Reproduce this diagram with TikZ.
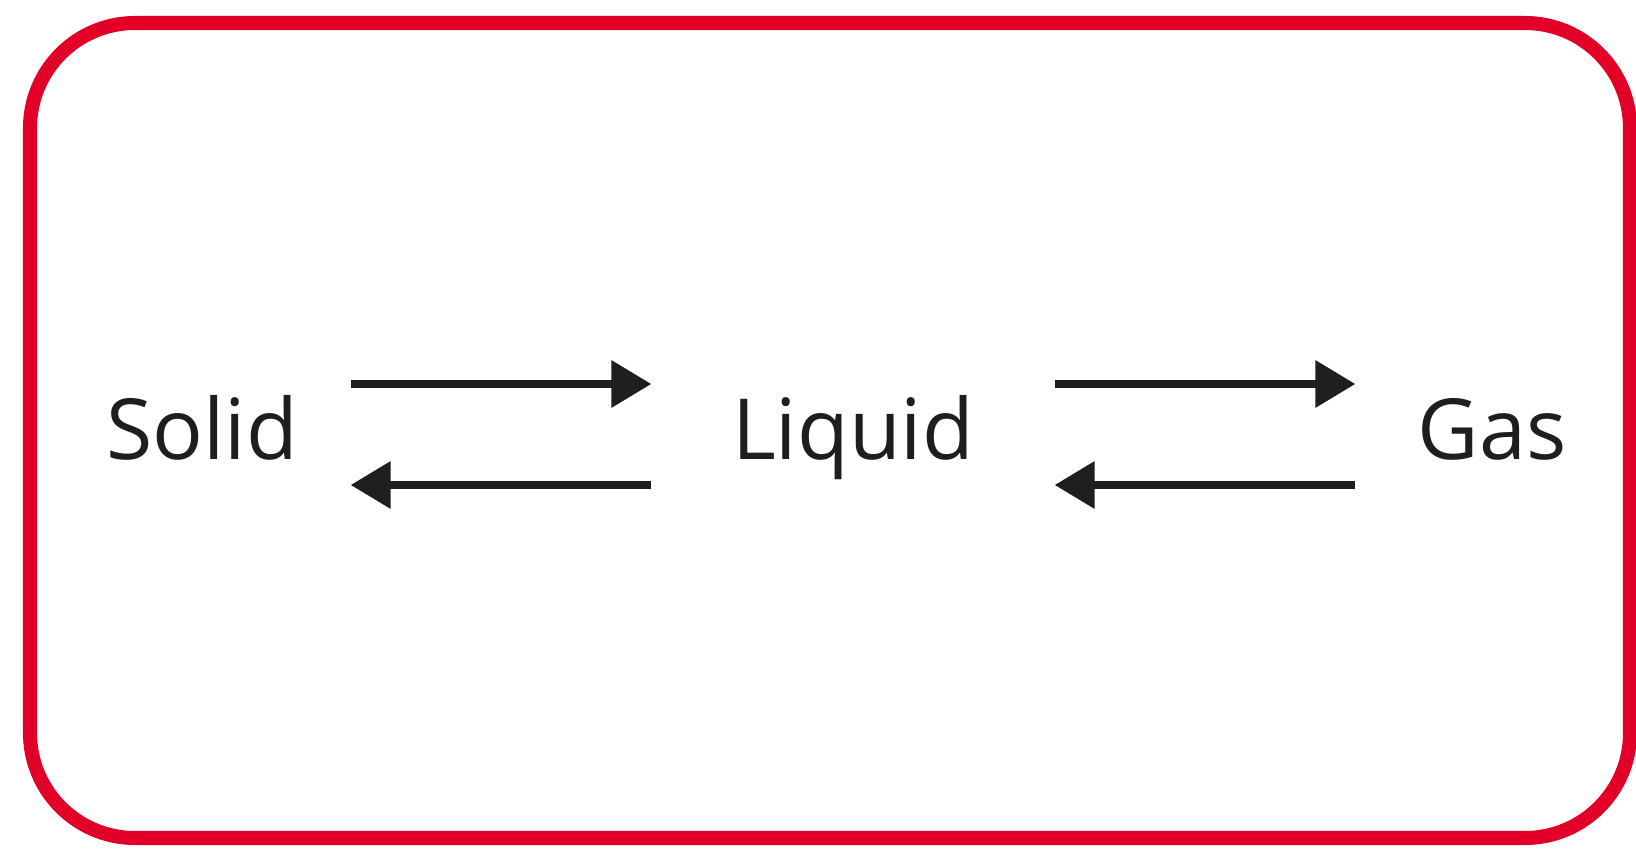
\documentclass[tikz,border=0pt]{standalone}
\usepackage{fontspec}
\setmainfont{Open Sans}
\usetikzlibrary{arrows.meta}
\definecolor{framered}{RGB}{226,0,40}
\definecolor{inkgray}{RGB}{30,30,30}
\tikzset{
  phase/.style={inner sep=0pt, anchor=base, text=inkgray, font=\fontsize{24}{29}\selectfont},
  change/.style={-{Triangle[length=4mm,width=4.6mm]}, line width=2pt, draw=inkgray}
}
\begin{document}
\begin{tikzpicture}
            \useasboundingbox (0,0) rectangle (16.36,-8.49);
            % frame
            \draw[framered, line width=4pt, rounded corners=1.05cm] (0.30,-0.23) rectangle (16.30,-8.38);
            % nodes
            \node (solid) [phase, minimum width=2.96cm] at (2.02,-4.59) {Solid};
            \node (liquid) [phase, minimum width=4.02cm] at (8.53,-4.59) {Liquid};
            \node (gas) [phase, minimum width=2.72cm] at (14.92,-4.59) {Gas};
            % arrows
            \draw[change] ([yshift=0.75cm]solid.base east) -- ([yshift=0.75cm]liquid.base west);
            \draw[change] ([yshift=-0.26cm]liquid.base west) -- ([yshift=-0.26cm]solid.base east);
            \draw[change] ([yshift=0.75cm]liquid.base east) -- ([yshift=0.75cm]gas.base west);
            \draw[change] ([yshift=-0.26cm]gas.base west) -- ([yshift=-0.26cm]liquid.base east);
        \end{tikzpicture}
\end{document}
